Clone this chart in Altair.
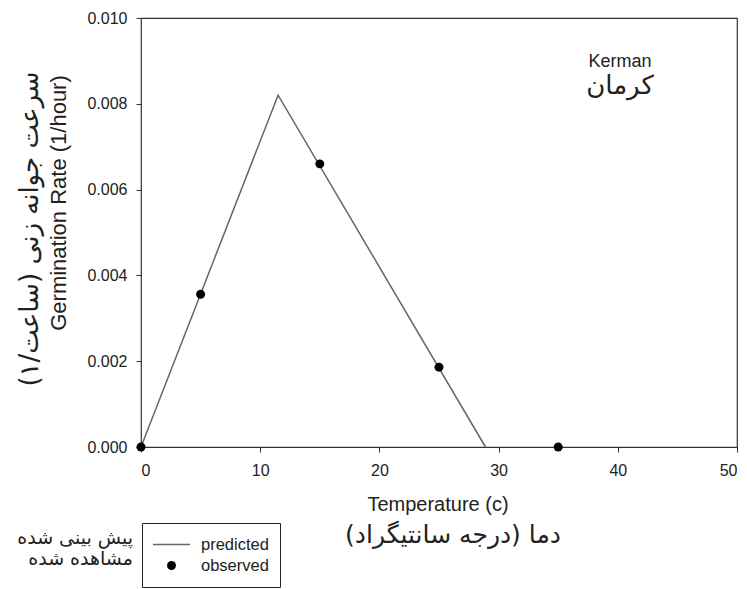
import altair as alt
import pandas as pd

# predicted model (segmented linear)
pred_temp = [0, 11.5, 28.9]
pred_rate = [0.0, 0.0082, 0.0]
# observed points
obs_temp = [0, 5, 15, 25, 35]
obs_rate = [0.0, 0.00356, 0.0066, 0.00186, 0.0]
series_names = ["predicted", "observed"]
x_ticks = [0, 10, 20, 30, 40, 50]
y_ticks = [0.0, 0.002, 0.004, 0.006, 0.008, 0.010]

pred_df = pd.DataFrame({"temp": pred_temp, "rate": pred_rate, "series": "predicted"})
obs_df = pd.DataFrame({"temp": obs_temp, "rate": obs_rate, "series": "observed"})

W, H = 596, 429
FONT = "Liberation Sans"
PFONT = "DejaVu Sans"
TXT = "#222"
LINE = "#666"

xs = alt.Scale(domain=[0, 50], nice=False)
ys = alt.Scale(domain=[0, 0.01], nice=False)

xax = alt.Axis(values=x_ticks, title=None, grid=False, domain=False, tickSize=5,
               labelFont=FONT, labelFontSize=16, labelColor=TXT, tickColor="#333", labelPadding=10)
yax = alt.Axis(values=y_ticks, format=".3f", title=None, grid=False, domain=False, tickSize=5,
               labelFont=FONT, labelFontSize=16, labelColor=TXT, tickColor="#333", labelPadding=9)

# legend symbols: a thin horizontal bar for the line, a dot for the observations
shape_scale = alt.Scale(domain=series_names, range=["M-1,-0.045H1V0.045H-1Z", "circle"])
size_scale = alt.Scale(domain=series_names, range=[1369, 80])
fill_scale = alt.Scale(domain=series_names, range=[LINE, "black"])
legend = alt.Legend(title=None, orient="none", legendX=1, legendY=505,
                    strokeColor="#222", padding=11, labelFont=FONT, labelFontSize=16.5,
                    labelColor=TXT, clipHeight=21, rowPadding=0, labelOffset=11,
                    symbolStrokeWidth=0)

line = alt.Chart(pred_df).mark_line(color=LINE, strokeWidth=1.5).encode(
    x=alt.X("temp:Q", scale=xs, axis=xax),
    y=alt.Y("rate:Q", scale=ys, axis=yax),
)
pts = alt.Chart(obs_df).mark_point(filled=True, opacity=1, strokeWidth=0).encode(
    x=alt.X("temp:Q", scale=xs),
    y=alt.Y("rate:Q", scale=ys),
    fill=alt.Fill("series:N", scale=fill_scale, legend=legend),
    shape=alt.Shape("series:N", scale=shape_scale, legend=legend),
    size=alt.Size("series:N", scale=size_scale, legend=legend),
)

def label(t, x, y, size, font=FONT, angle=0, align="center"):
    return alt.Chart(pd.DataFrame({"t": [t]})).mark_text(
        font=font, fontSize=size, color=TXT, angle=angle, align=align, baseline="middle"
    ).encode(text="t:N", x=alt.value(x), y=alt.value(y))

texts = [
    label("Germination Rate (1/hour)", -82, 185, 22, angle=270),
    label("سرعت جوانه زنی (ساعت/۱)", -111, 211, 26, font=PFONT, angle=270),
    label("Temperature (c)", 297, 487, 20),
    label("دما (درجه سانتیگراد)", 312, 517, 25, font=PFONT),
    label("Kerman", 479, 44, 18),
    label("کرمان", 479, 68, 26, font=PFONT),
    label("پیش بینی شده", -8, 520, 19, font=PFONT, align="right"),
    label("مشاهده شده", -8, 541, 19, font=PFONT, align="right"),
]

chart = alt.layer(line, pts, *texts).properties(
    width=W, height=H,
    autosize=alt.AutoSizeParams(type="none"),
    padding={"left": 133, "top": 10, "right": 2, "bottom": 141},
).configure_view(stroke="#333", strokeWidth=1.2)

chart.save("out.html", embed_options={"renderer": "svg", "actions": False})
